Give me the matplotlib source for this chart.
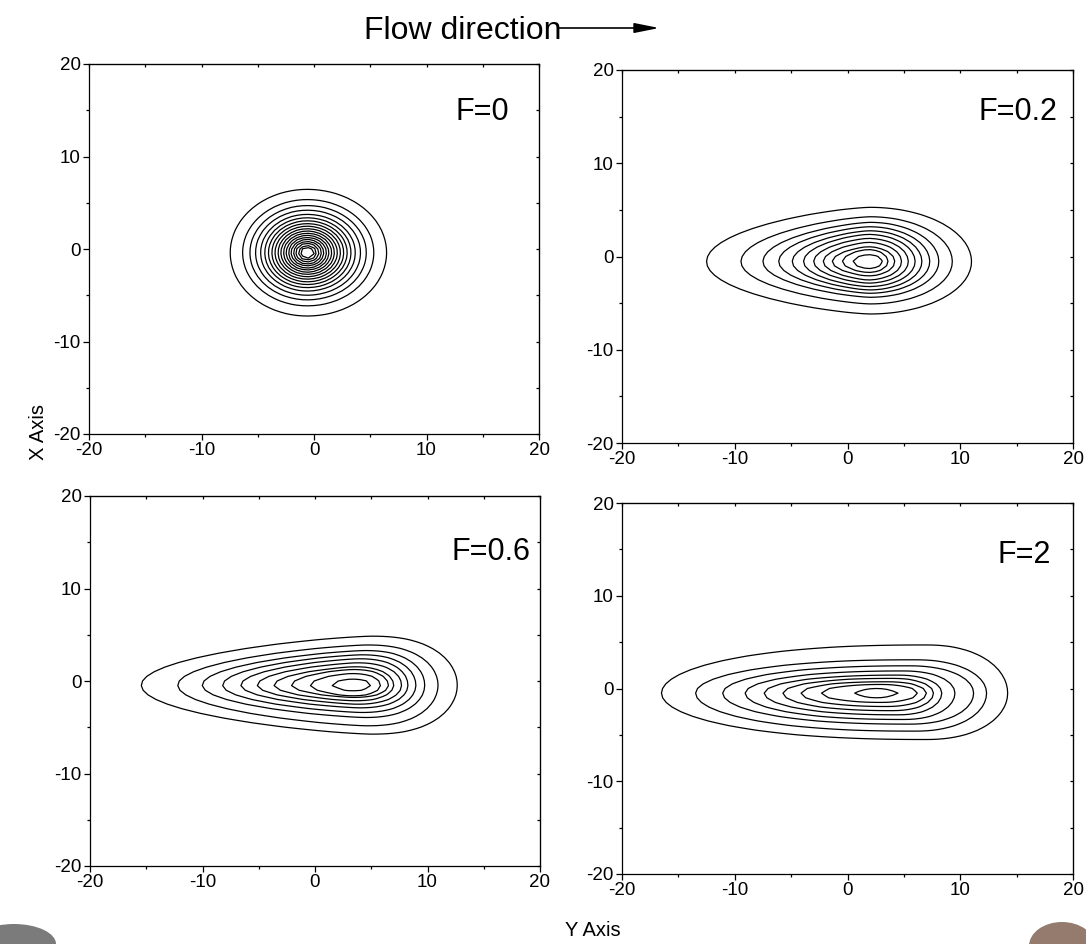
import numpy as np
import matplotlib
matplotlib.use('Agg')
import matplotlib.pyplot as plt
from matplotlib.patches import Ellipse, FancyArrowPatch

plt.rcParams['font.family'] = ['Liberation Sans', 'DejaVu Sans']
plt.rcParams['axes.unicode_minus'] = False

# ---------------- data ----------------
panel_labels = ['F=0', 'F=0.2', 'F=0.6', 'F=2']
tick_values = [-20, -10, 0, 10, 20]
minor_values = [-15, -5, 5, 15]

# F=0 : nearly circular rings around the source
f0_center = (-0.6, -0.4)
f0_radii = [6.85, 5.75, 5.1, 4.6, 4.15, 3.78, 3.45, 3.15, 2.87, 2.6,
            2.35, 2.11, 1.88, 1.66, 1.44, 1.23, 1.02, 0.8, 0.6]

# F=0.2 : ring extents (left / right tips, top / bottom, x of widest point)
f02_cy = -0.55
f02_mid = [2.0, 2.0, 2.0, 1.9, 1.9, 1.8, 1.8, 1.8, 1.8, 1.8, 1.8]
f02_left = [-12.5, -9.45, -7.5, -6.1, -4.9, -3.9, -3.0, -2.15, -1.35, -0.45, 0.5]
f02_right = [11.0, 9.3, 8.1, 7.3, 6.6, 6.0, 5.4, 4.8, 4.2, 3.6, 3.1]
f02_top = [5.28, 4.27, 3.67, 3.2, 2.77, 2.38, 1.95, 1.52, 1.05, 0.77, 0.24]
f02_bottom = [-6.17, -5.09, -4.38, -3.95, -3.59, -3.24, -2.87, -2.52, -2.09, -1.74, -1.34]

# F=0.6
f06_cy = -0.45
f06_mid = [5.0, 4.6, 4.4, 4.1, 3.9, 3.7, 3.5, 3.3, 3.2, 3.2]
f06_left = [-15.44, -12.2, -10.02, -8.21, -6.59, -5.13, -3.64, -2.09, -0.41, 1.52]
f06_right = [12.65, 10.94, 9.76, 8.97, 8.27, 7.7, 7.0, 6.53, 5.83, 4.94]
f06_top = [4.85, 3.9, 3.3, 2.84, 2.41, 1.97, 1.54, 1.26, 0.83, 0.25]
f06_bottom = [-5.75, -4.85, -3.95, -3.41, -2.91, -2.51, -2.15, -1.8, -1.62, -1.08]

# F=2
f2_cy = -0.5
f2_mid = [7.0, 6.0, 5.5, 5.0, 4.5, 4.0, 3.5, 3.0, 2.6]
f2_left = [-16.5, -13.47, -11.07, -9.08, -7.39, -5.73, -4.12, -2.31, 0.62]
f2_right = [14.21, 12.34, 11.19, 9.53, 8.37, 7.63, 7.0, 6.2, 4.48]
f2_top = [4.7, 3.1, 2.45, 1.9, 1.45, 1.1, 0.75, 0.45, 0.0]
f2_bottom = [-5.5, -4.6, -3.85, -3.35, -2.85, -2.4, -1.95, -1.5, -1.0]

# shape exponents of the upstream / downstream halves
left_exp = [2.0, 1.4, 1.35, 2.3]
right_exp = [2.0, 2.0, 2.4, 2.2]

# ---------------- build panels ----------------
rings = [
    (f0_center[1],
     [f0_center[0] for _ in f0_radii],
     [f0_center[0] - r for r in f0_radii],
     [f0_center[0] + 1.03 * r for r in f0_radii],
     [f0_center[1] + r for r in f0_radii],
     [f0_center[1] - r for r in f0_radii]),
    (f02_cy, f02_mid, f02_left, f02_right, f02_top, f02_bottom),
    (f06_cy, f06_mid, f06_left, f06_right, f06_top, f06_bottom),
    (f2_cy, f2_mid, f2_left, f2_right, f2_top, f2_bottom),
]

label_pos = [(17.3, 14.8), (18.6, 15.5), (19.2, 14.0), (18.0, 14.4)]

W, H = 1086, 944
fig = plt.figure(figsize=(W / 100, H / 100), dpi=100)

# axes boxes in pixels: left, top, right, bottom
boxes = [(89, 64, 539, 434), (622, 70, 1073, 443),
         (90, 496, 540, 866), (622, 503, 1073, 874)]

grid = np.arange(-20, 20.001, 0.5)
GX, GY = np.meshgrid(grid, grid)


def ring_field(cx, cy, l, r, t, b, pl, pr):
    u = np.where(GX < cx, (cx - GX) / (cx - l), (GX - cx) / (r - cx))
    v = np.where(GY > cy, (GY - cy) / (t - cy), (cy - GY) / (cy - b))
    p = np.where(GX < cx, pl, pr)
    return np.abs(u) ** p + v ** 2


for i, (box, ring) in enumerate(zip(boxes, rings)):
    x0, y0, x1, y1 = box
    ax = fig.add_axes([x0 / W, 1 - y1 / H, (x1 - x0) / W, (y1 - y0) / H])
    cy, mids, ls, rs, ts, bs = ring
    for cx, l, r, t, b in zip(mids, ls, rs, ts, bs):
        D = ring_field(cx, cy, l, r, t, b, left_exp[i], right_exp[i])
        ax.contour(GX, GY, D, levels=[1.0], colors='black', linewidths=0.9)
    ax.set_xlim(-20, 20)
    ax.set_ylim(-20, 20)
    ax.set_xticks(tick_values)
    ax.set_yticks(tick_values)
    ax.set_xticks(minor_values, minor=True)
    ax.set_yticks(minor_values, minor=True)
    ax.tick_params(which='major', direction='out', length=4, width=0.9,
                   labelsize=13.5, pad=2)
    ax.tick_params(which='minor', direction='out', length=2.5, width=0.9)
    for sp in ax.spines.values():
        sp.set_linewidth(0.9)
    # inward ticks on top and right
    top = ax.secondary_xaxis('top')
    top.set_xticks(tick_values)
    top.set_xticks(minor_values, minor=True)
    top.tick_params(which='both', direction='in', length=2.5, width=0.9,
                    labeltop=False)
    right = ax.secondary_yaxis('right')
    right.set_yticks(tick_values)
    right.set_yticks(minor_values, minor=True)
    right.tick_params(which='both', direction='in', length=2.5, width=0.9,
                      labelright=False)
    lx, ly = label_pos[i]
    ax.text(lx, ly, panel_labels[i], ha='right', va='center', fontsize=22)

# titles and axis names
fig.text(562 / W, 1 - 39 / H, 'Flow direction', ha='right', va='baseline',
         fontsize=23)
fig.add_artist(FancyArrowPatch(
    (556 / W, 1 - 28 / H), (662 / W, 1 - 28 / H), transform=fig.transFigure,
    arrowstyle='-|>,head_length=1.5,head_width=0.3', color='black',
    linewidth=1.2, mutation_scale=10))
fig.text(38 / W, 1 - 432 / H, 'X Axis', rotation=90, ha='center',
         va='center', fontsize=14.5)
fig.text(593 / W, 1 - 930 / H, 'Y Axis', ha='center', va='center',
         fontsize=14.5)

# photographic smudges in the bottom corners
fig.add_artist(Ellipse((14 / W, 1 - 944 / H), 84 / W, 40 / H,
                       transform=fig.transFigure, color='#5a5a5a',
                       alpha=0.8, lw=0))
fig.add_artist(Ellipse((1062 / W, 1 - 946 / H), 66 / W, 48 / H,
                       transform=fig.transFigure, color='#7a5a48',
                       alpha=0.8, lw=0))

fig.savefig('out.png', dpi=100)
